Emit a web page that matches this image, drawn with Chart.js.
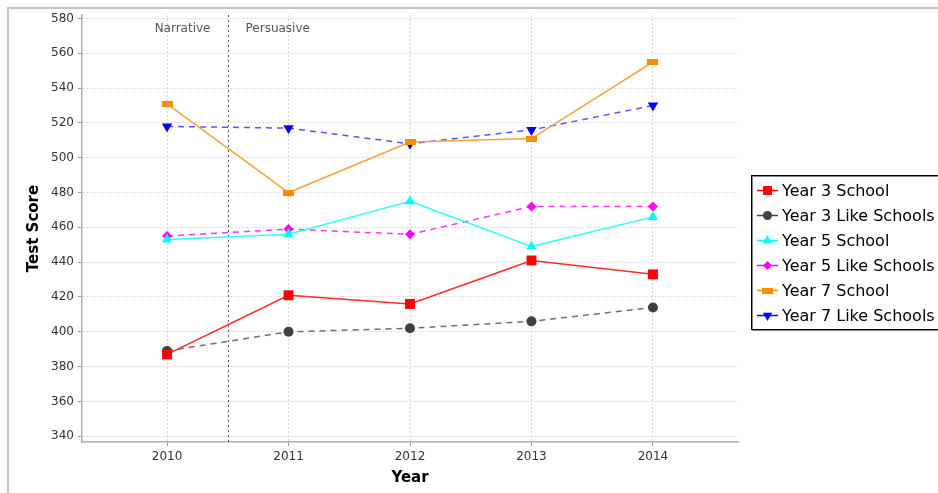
<!DOCTYPE html>
<html lang="en">
<head>
<meta charset="UTF-8">
<script src="https://cdn.jsdelivr.net/npm/chart.js"></script>
<title>Test Score by Year</title>
<style>
  body { margin: 0; background: #fff; }
  #wrap { position: relative; width: 938px; height: 493px; }
</style>
</head>
<body>
<div id="wrap"><canvas id="MyChart" width="938" height="493"></canvas></div>
<script>
    // data
    var anos = [2010, 2011, 2012, 2013, 2014];
    var ticksY = [340, 360, 380, 400, 420, 440, 460, 480, 500, 520, 540, 560, 580];
    var nomesSeries = ['Year 3 School', 'Year 3 Like Schools', 'Year 5 School', 'Year 5 Like Schools', 'Year 7 School', 'Year 7 Like Schools'];
    var year3School = [387, 421, 416, 441, 433];
    var year3Like = [389, 400, 402, 406, 414];
    var year5School = [453, 456, 475, 449, 466];
    var year5Like = [455, 459, 456, 472, 472];
    var year7School = [531, 480, 509, 511, 555];
    var year7Like = [518, 517, 508, 516, 530];
    var marcador = 2010.5;
    var rotulosMarcador = ['Narrative', 'Persuasive'];

    // orange marker is a flat rectangle
    var retLaranja = document.createElement('canvas');
    retLaranja.width = 11; retLaranja.height = 6;
    var rc = retLaranja.getContext('2d');
    rc.fillStyle = '#ff8c00';
    rc.fillRect(0, 0, 11, 6);

    function pontos(valores) {
        return valores.map(function (v, i) { return { x: anos[i], y: v }; });
    }

    var estilos = [
        { linha: '#ff2a2a', ponto: '#ff0000', forma: 'rect', raio: 7, tracejado: [], rot: 0 },
        { linha: '#707070', ponto: '#404040', forma: 'circle', raio: 5, tracejado: [6, 5], rot: 0 },
        { linha: '#33ffff', ponto: '#00ffff', forma: 'triangle', raio: 6, tracejado: [], rot: 0 },
        { linha: '#ff33ff', ponto: '#ff00ff', forma: 'rectRot', raio: 5, tracejado: [6, 5], rot: 0 },
        { linha: '#ffa040', ponto: '#ff8c00', forma: retLaranja, raio: 6, tracejado: [], rot: 0 },
        { linha: '#5555ff', ponto: '#0000ff', forma: 'triangle', raio: 6, tracejado: [6, 5], rot: 180 }
    ];
    var valores = [year3School, year3Like, year5School, year5Like, year7School, year7Like];

    var datasets = valores.map(function (v, i) {
        var e = estilos[i];
        return {
            label: nomesSeries[i],
            data: pontos(v),
            borderColor: e.linha,
            borderWidth: 1.5,
            borderDash: e.tracejado,
            backgroundColor: e.ponto,
            pointBackgroundColor: e.ponto,
            pointBorderColor: e.ponto,
            pointBorderWidth: 0,
            pointStyle: e.forma,
            pointRadius: e.raio,
            pointRotation: e.rot,
            tension: 0
        };
    });

    const fundo = {
        id: 'fundo',
        beforeDraw(chart) {
            const ctx = chart.ctx;
            ctx.save();
            ctx.fillStyle = '#fff';
            ctx.fillRect(0, 0, chart.width, chart.height);
            ctx.strokeStyle = '#c4c4c4';
            ctx.lineWidth = 2;
            ctx.strokeRect(8, 8, 1000, 1000);
            ctx.restore();
        },
        beforeDatasetsDraw(chart) {
            const ctx = chart.ctx;
            const a = chart.chartArea;
            const x = Math.round(chart.scales.x.getPixelForValue(marcador)) + 0.5;
            ctx.save();
            ctx.strokeStyle = '#555';
            ctx.lineWidth = 1;
            ctx.setLineDash([2, 3]);
            ctx.beginPath();
            ctx.moveTo(x, a.top);
            ctx.lineTo(x, a.bottom);
            ctx.stroke();
            ctx.setLineDash([]);
            ctx.font = '12px "DejaVu Sans"';
            ctx.fillStyle = '#555';
            ctx.textBaseline = 'middle';
            ctx.textAlign = 'right';
            ctx.fillText(rotulosMarcador[0], x - 18, 29);
            ctx.textAlign = 'left';
            ctx.fillText(rotulosMarcador[1], x + 17, 29);
            ctx.restore();
        },
        afterDraw(chart) {
            // legenda
            const ctx = chart.ctx;
            ctx.save();
            ctx.fillStyle = '#fff';
            ctx.fillRect(751, 175, 200, 155);
            ctx.strokeStyle = '#888';
            ctx.lineWidth = 1;
            ctx.strokeRect(752.5, 176.5, 200, 154);
            ctx.strokeStyle = '#000';
            ctx.strokeRect(751.5, 175.5, 200, 154);
            ctx.font = '16px "DejaVu Sans"';
            ctx.textBaseline = 'middle';
            ctx.textAlign = 'left';
            for (let i = 0; i < nomesSeries.length; i++) {
                const e = estilos[i];
                const y = 190.5 + i * 25;
                ctx.strokeStyle = e.ponto;
                ctx.lineWidth = 1.5;
                ctx.beginPath();
                ctx.moveTo(757, y);
                ctx.lineTo(778, y);
                ctx.stroke();
                ctx.fillStyle = e.ponto;
                Chart.helpers.drawPoint(ctx, {
                    pointStyle: e.forma, radius: e.raio * 0.9, rotation: e.rot, borderWidth: 0
                }, 767.5, y);
                ctx.fillStyle = '#000';
                ctx.fillText(nomesSeries[i], 782, y + 1);
            }
            ctx.restore();
        }
    };

    const config = {
        type: 'line',
        data: { datasets: datasets },
        options: {
            responsive: false,
            animation: false,
            layout: { padding: { left: 0, right: 200, top: 15, bottom: 0 } },
            plugins: { legend: { display: false }, tooltip: { enabled: false } },
            scales: {
                x: {
                    type: 'linear',
                    min: 2009.3,
                    max: 2014.7,
                    afterBuildTicks: function (s) { s.ticks = anos.map(function (v) { return { value: v }; }); },
                    afterFit: function (s) { s.height = 51; },
                    ticks: {
                        callback: function (v) { return String(v); },
                        font: { family: 'DejaVu Sans', size: 12 },
                        color: '#333',
                        padding: 4
                    },
                    grid: { color: '#d8d8d8', drawTicks: true, tickLength: 4, tickColor: '#999', tickBorderDash: [] },
                    border: { color: '#b0b0b0', width: 1.5, dash: [2, 2] },
                    title: { display: true, text: 'Year', font: { family: 'DejaVu Sans', size: 15, weight: 'bold' }, color: '#000', padding: { top: 3, bottom: 6 } }
                },
                y: {
                    min: 336.7,
                    max: 582,
                    afterBuildTicks: function (s) { s.ticks = ticksY.map(function (v) { return { value: v }; }); },
                    afterFit: function (s) { s.width = 82; },
                    ticks: {
                        font: { family: 'DejaVu Sans', size: 12 },
                        color: '#333',
                        padding: 4
                    },
                    grid: { color: '#d8d8d8', tickLength: 4, tickColor: '#999', tickBorderDash: [] },
                    border: { color: '#b0b0b0', width: 1.5, dash: [2, 2] },
                    title: { display: true, text: 'Test Score', font: { family: 'DejaVu Sans', size: 15, weight: 'bold' }, color: '#000', padding: { top: 25, bottom: 0 } }
                }
            }
        },
        plugins: [fundo]
    };

    let MyChart = new Chart(document.getElementById('MyChart'), config);
</script>
</body>
</html>
